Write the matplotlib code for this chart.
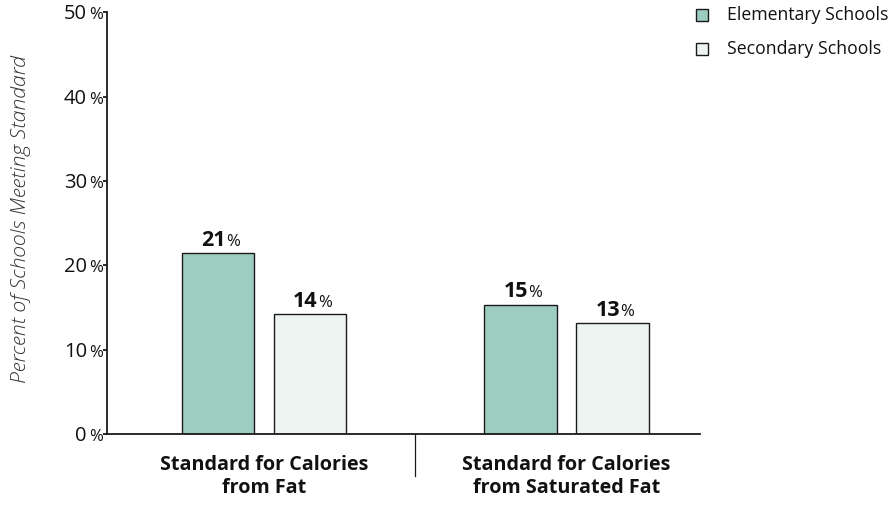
import numpy as np
import matplotlib.pyplot as plt
from matplotlib.patches import Rectangle
import matplotlib.transforms as mtransforms

plt.rcParams['font.family'] = ['Open Sans', 'DejaVu Sans']

# data
categories = ['Standard for Calories\nfrom Fat', 'Standard for Calories\nfrom Saturated Fat']
series_names = ['Elementary Schools', 'Secondary Schools']
elementary = [21.4, 15.3]
secondary = [14.2, 13.1]
elementary_labels = ['21', '15']
secondary_labels = ['14', '13']
yticks = [0, 10, 20, 30, 40, 50]

col_elem = '#9dcdc1'
col_sec = '#eef4f1'
edge = '#1a1a1a'
txt = '#111111'

fig = plt.figure(figsize=(8.89, 5.07), dpi=100)
ax = fig.add_axes([0.1204, 0.144, 0.667, 0.832])

x = np.arange(len(categories))
w = 0.24
off = 0.152
ax.bar(x - off, elementary, w, color=col_elem, edgecolor=edge, linewidth=1.0, zorder=2)
ax.bar(x + off, secondary, w, color=col_sec, edgecolor=edge, linewidth=1.0, zorder=2)

ax.set_xlim(-0.519, 1.441)
ax.set_ylim(0, 50)

for s in ['top', 'right']:
    ax.spines[s].set_visible(False)
for s in ['left', 'bottom']:
    ax.spines[s].set_linewidth(1.3)
    ax.spines[s].set_color(edge)

ax.set_xticks([])
ax.set_yticks(yticks)
ax.set_yticklabels([])
ax.tick_params(axis='y', length=3, width=1.3, color=edge, direction='out')

# y tick labels: number + smaller %
trans = mtransforms.blended_transform_factory(ax.transAxes, ax.transData)
for t in yticks:
    ax.annotate(str(t), xy=(0, t), xycoords=trans, xytext=(-14.5, -5.2),
                textcoords='offset points', ha='right', va='baseline',
                fontsize=14.5, color=txt)
    ax.annotate('%', xy=(0, t), xycoords=trans, xytext=(-2.9, -5.2),
                textcoords='offset points', ha='right', va='baseline',
                fontsize=12, color=txt)

# bar value labels: bold number + smaller %
def value_label(xpos, val, s):
    ax.annotate(s, xy=(xpos, val), xytext=(5.4, 5.5), textcoords='offset points',
                ha='right', va='baseline', fontsize=15.5, fontweight='bold', color=txt)
    ax.annotate('%', xy=(xpos, val), xytext=(5.6, 5.5), textcoords='offset points',
                ha='left', va='baseline', fontsize=12, color=txt)

for i in range(len(categories)):
    value_label(x[i] - off, elementary[i], elementary_labels[i])
    value_label(x[i] + off, secondary[i], secondary_labels[i])

# category labels
for i, c in enumerate(categories):
    ax.annotate(c, xy=(x[i], 0), xytext=(0, -15), textcoords='offset points',
                ha='center', va='top', fontsize=14.2, fontweight='bold',
                color=txt, linespacing=1.2, annotation_clip=False)

# divider between categories
ax.plot([0.5, 0.5], [0, -5], color=edge, linewidth=0.9, clip_on=False)

ax.set_ylabel('Percent of Schools Meeting Standard', fontsize=15.3, style='italic',
              color='#333333', fontweight='light')
ax.yaxis.set_label_coords(-0.128, 0.51)

# legend
fig.patches.append(Rectangle((696 / 889, 1 - 21 / 507), 12 / 889, 12 / 507,
                             transform=fig.transFigure, facecolor=col_elem,
                             edgecolor=edge, linewidth=1.0))
fig.patches.append(Rectangle((696 / 889, 1 - 55 / 507), 12 / 889, 12 / 507,
                             transform=fig.transFigure, facecolor=col_sec,
                             edgecolor=edge, linewidth=1.0))
fig.text(727 / 889, 1 - 15 / 507, series_names[0], fontsize=12.7, va='center', color=txt)
fig.text(727 / 889, 1 - 49 / 507, series_names[1], fontsize=12.7, va='center', color=txt)

fig.savefig('out.png', dpi=100)
